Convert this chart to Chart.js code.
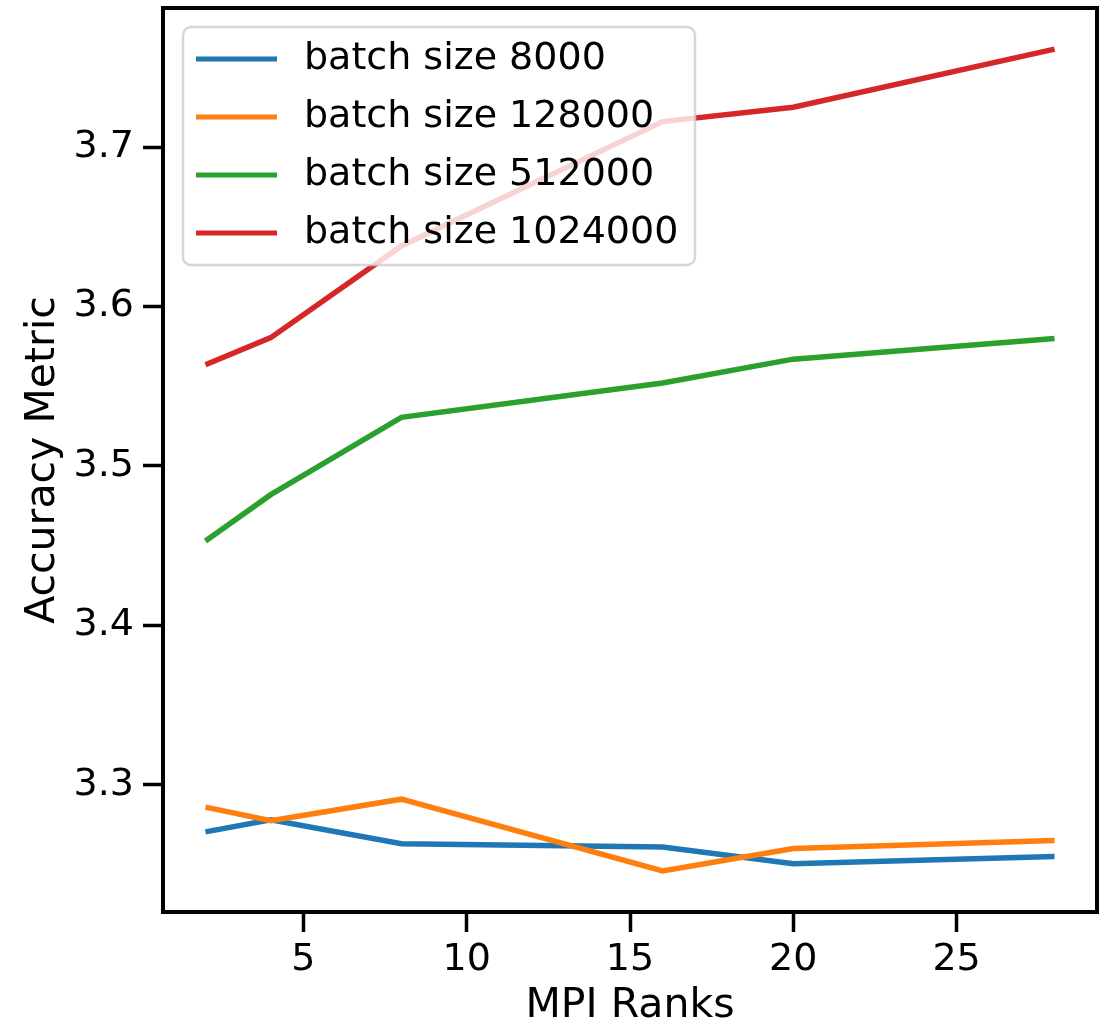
<!DOCTYPE html>
<html>
<head>
<meta charset="utf-8">
<script src="https://cdn.jsdelivr.net/npm/chart.js@4/dist/chart.umd.min.js"></script>
<style>
  html, body { margin: 0; padding: 0; background: #fff; }
  #wrap { width: 1103px; height: 1025px; }
</style>
</head>
<body>
<div id="wrap"><canvas id="chart" width="1103" height="1025"></canvas></div>
<script>
// MPI ranks on the x axis
var ranks = [2, 4, 8, 16, 20, 28];

// accuracy metric per batch size
var batch8000 = [3.2705, 3.278, 3.263, 3.261, 3.2505, 3.255];
var batch128000 = [3.286, 3.2775, 3.291, 3.246, 3.260, 3.265];
var batch512000 = [3.453, 3.482, 3.5305, 3.552, 3.567, 3.580];
var batch1024000 = [3.5635, 3.5805, 3.638, 3.716, 3.725, 3.7615];

var seriesNames = ["batch size 8000", "batch size 128000", "batch size 512000", "batch size 1024000"];
var seriesColors = ["#1f77b4", "#ff7f0e", "#2ca02c", "#d62728"];

var xTicks = [5, 10, 15, 20, 25];
var yTicks = [3.3, 3.4, 3.5, 3.6, 3.7];

var FONT = "'DejaVu Sans', sans-serif";

function points(values) {
    return ranks.map(function(r, i) { return {x: r, y: values[i]}; });
}

var allSeries = [batch8000, batch128000, batch512000, batch1024000];
var datasets = allSeries.map(function(values, i) {
    return {
        label: seriesNames[i],
        data: points(values),
        borderColor: seriesColors[i],
        backgroundColor: seriesColors[i],
        borderWidth: 5.5,
        pointRadius: 0,
        tension: 0,
        fill: false,
        // later series sit on top
        order: allSeries.length - i
    };
});

// matplotlib-style 5% margins around the data
var allY = [].concat.apply([], allSeries);
var yMin = Math.min.apply(null, allY), yMax = Math.max.apply(null, allY);
var yPad = (yMax - yMin) * 0.05;
var xPad = (ranks[ranks.length - 1] - ranks[0]) * 0.05;

// frame round the plot area
var framePlugin = {
    id: "frame",
    afterDraw: function(chart) {
        var a = chart.chartArea, ctx = chart.ctx;
        ctx.save();
        ctx.strokeStyle = "#000";
        ctx.lineWidth = 4;
        ctx.strokeRect(a.left, a.top, a.right - a.left, a.bottom - a.top);
        ctx.restore();
    }
};

// boxed legend in the upper left of the plot
var boxLegend = {
    id: "boxLegend",
    afterDatasetsDraw: function(chart) {
        var ctx = chart.ctx;
        var x = 183, y = 27, w = 512, h = 238, r = 8;
        ctx.save();
        ctx.beginPath();
        ctx.roundRect(x, y, w, h, r);
        ctx.fillStyle = "rgba(255,255,255,0.8)";
        ctx.fill();
        ctx.lineWidth = 2.5;
        ctx.strokeStyle = "rgba(204,204,204,0.8)";
        ctx.stroke();

        ctx.font = "38px " + FONT;
        ctx.textBaseline = "middle";
        ctx.fillStyle = "#000";
        chart.data.datasets.forEach(function(ds, i) {
            var cy = 59 + i * 58;
            ctx.beginPath();
            ctx.moveTo(196, cy);
            ctx.lineTo(277, cy);
            ctx.lineWidth = 5;
            ctx.strokeStyle = ds.borderColor;
            ctx.stroke();
            ctx.fillText(ds.label, 304, cy);
        });
        ctx.restore();
    }
};

var ctx = document.getElementById("chart");
var myChart = new Chart(ctx, {
    type: "line",
    data: { datasets: datasets },
    options: {
        responsive: false,
        animation: false,
        layout: { padding: { top: 8, right: 6, left: 0, bottom: 0 } },
        plugins: {
            legend: { display: false },
            tooltip: { enabled: false }
        },
        scales: {
            x: {
                type: "linear",
                min: ranks[0] - xPad,
                max: ranks[ranks.length - 1] + xPad,
                afterBuildTicks: function(scale) {
                    scale.ticks = xTicks.map(function(v) { return {value: v}; });
                },
                afterFit: function(scale) {
                    scale.height = 113;
                    scale.paddingLeft = 0;
                    scale.paddingRight = 0;
                },
                border: { display: false },
                grid: {
                    drawOnChartArea: false,
                    drawTicks: true,
                    tickLength: 20,
                    tickWidth: 3.5,
                    tickColor: "#000"
                },
                ticks: {
                    color: "#000",
                    padding: 5,
                    maxRotation: 0,
                    font: { family: FONT, size: 38 }
                },
                title: {
                    display: true,
                    text: "MPI Ranks",
                    color: "#000",
                    padding: { top: 0, bottom: 0 },
                    font: { family: FONT, size: 41, lineHeight: 0.9 }
                }
            },
            y: {
                type: "linear",
                min: yMin - yPad,
                max: yMax + yPad,
                afterBuildTicks: function(scale) {
                    scale.ticks = yTicks.map(function(v) { return {value: v}; });
                },
                afterFit: function(scale) {
                    scale.width = 163;
                    scale.paddingTop = 0;
                    scale.paddingBottom = 0;
                },
                border: { display: false },
                grid: {
                    drawOnChartArea: false,
                    drawTicks: true,
                    tickLength: 20,
                    tickWidth: 3.5,
                    tickColor: "#000"
                },
                ticks: {
                    color: "#000",
                    padding: 9,
                    font: { family: FONT, size: 38 },
                    callback: function(v) { return v.toFixed(1); }
                },
                title: {
                    display: true,
                    text: "Accuracy Metric",
                    color: "#000",
                    padding: { top: 25, bottom: 0 },
                    font: { family: FONT, size: 41, lineHeight: 0.9 }
                }
            }
        }
    },
    plugins: [boxLegend, framePlugin]
});
</script>
</body>
</html>
